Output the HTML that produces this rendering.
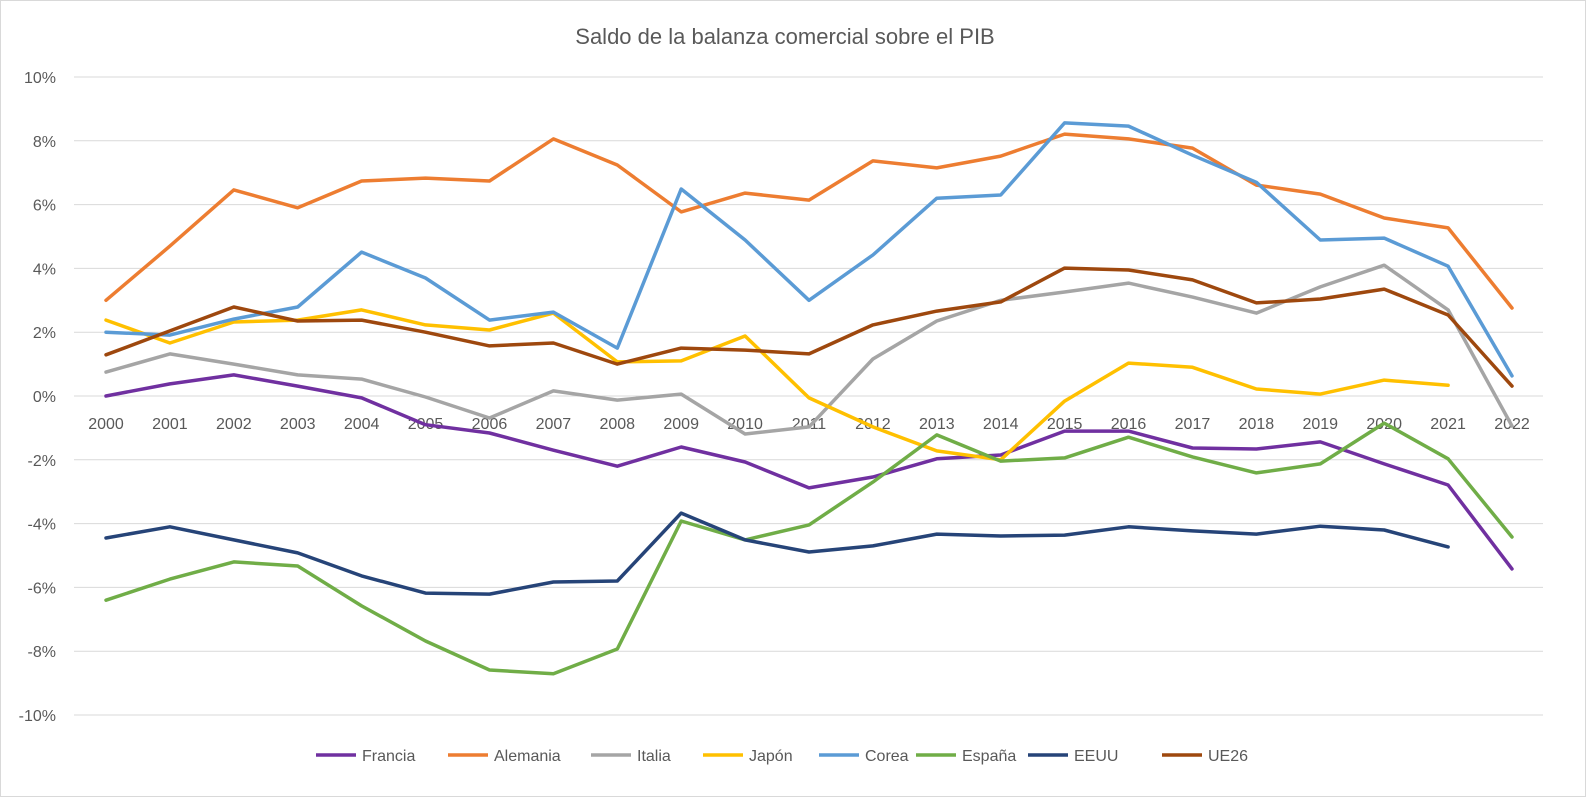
<!DOCTYPE html>
<html><head><meta charset="utf-8"><style>
body{margin:0;background:#fff}
svg{display:block;font-family:"Liberation Sans",sans-serif}
</style></head><body>
<svg id="chart" width="1586" height="797" viewBox="0 0 1586 797">
<rect x="0.5" y="0.5" width="1585" height="796" fill="#fff" stroke="#d9d9d9"/>
<text x="785" y="44" text-anchor="middle" font-size="22" fill="#595959">Saldo de la balanza comercial sobre el PIB</text>
<g id="grid"></g><g id="ylabels"></g><g id="xlabels"></g><g id="lines"></g><g id="legend"></g>
</svg>
<script>
const years=["2000","2001","2002","2003","2004","2005","2006","2007","2008","2009","2010","2011","2012","2013","2014","2015","2016","2017","2018","2019","2020","2021","2022"];
const yTicks=[10,8,6,4,2,0,-2,-4,-6,-8,-10];
const seriesNames=["Francia","Alemania","Italia","Japón","Corea","España","EEUU","UE26"];
const seriesColors=["#7030a0","#ed7d31","#a5a5a5","#ffc000","#5b9bd5","#70ad47","#264478","#9e480e"];
const francia=[0,0.38,0.66,0.31,-0.06,-0.9,-1.16,-1.7,-2.2,-1.6,-2.07,-2.88,-2.54,-1.97,-1.85,-1.1,-1.1,-1.63,-1.66,-1.44,-2.13,-2.79,-5.42];
const alemania=[3.0,4.7,6.46,5.9,6.74,6.83,6.74,8.06,7.24,5.77,6.36,6.14,7.37,7.15,7.52,8.21,8.06,7.77,6.61,6.33,5.58,5.27,2.76];
const italia=[0.75,1.32,1.0,0.66,0.53,-0.03,-0.69,0.16,-0.13,0.06,-1.19,-0.97,1.16,2.35,3.0,3.26,3.54,3.1,2.6,3.42,4.1,2.7,-0.94];
const japon=[2.38,1.66,2.32,2.38,2.7,2.23,2.07,2.6,1.07,1.1,1.88,-0.06,-0.97,-1.72,-2.0,-0.16,1.03,0.9,0.22,0.06,0.5,0.34,null];
const corea=[2.0,1.91,2.41,2.79,4.51,3.7,2.38,2.63,1.5,6.49,4.89,3.0,4.42,6.2,6.3,8.56,8.46,7.55,6.7,4.89,4.95,4.07,0.63];
const espana=[-6.4,-5.74,-5.2,-5.33,-6.58,-7.68,-8.59,-8.71,-7.93,-3.92,-4.51,-4.04,-2.7,-1.22,-2.04,-1.94,-1.29,-1.91,-2.41,-2.13,-0.85,-1.97,-4.42];
const eeuu=[-4.45,-4.1,-4.51,-4.92,-5.64,-6.18,-6.21,-5.83,-5.8,-3.67,-4.51,-4.89,-4.7,-4.33,-4.39,-4.36,-4.1,-4.23,-4.33,-4.08,-4.2,-4.73,null];
const ue26=[1.29,2.04,2.79,2.35,2.38,2.0,1.57,1.66,1.0,1.5,1.44,1.32,2.23,2.66,2.95,4.01,3.95,3.64,2.92,3.04,3.35,2.54,0.31];
const seriesData=[francia,alemania,italia,japon,corea,espana,eeuu,ue26];

const NS="http://www.w3.org/2000/svg";
const X0=106,X1=1512,Y0=396,PER=31.9;
const xs=i=>X0+(X1-X0)*i/(years.length-1);
const ys=v=>Y0-v*PER;
function mk(t,a,p){const e=document.createElementNS(NS,t);for(const k in a)e.setAttribute(k,a[k]);p.appendChild(e);return e;}
const grid=document.getElementById('grid'),yl=document.getElementById('ylabels'),xl=document.getElementById('xlabels'),lg=document.getElementById('lines'),leg=document.getElementById('legend');
yTicks.forEach(t=>{
  const l=mk('line',{x1:74,x2:1543,y1:ys(t),y2:ys(t),stroke:'#d9d9d9','stroke-width':1},grid);
  
  
  const tx=mk('text',{x:56,y:ys(t)+6,'text-anchor':'end','font-size':16,fill:'#595959'},yl);
  tx.textContent=t+'%';
  
  
});
years.forEach((y,i)=>{
  const tx=mk('text',{x:xs(i),y:429,'text-anchor':'middle','font-size':16,fill:'#595959'},xl);
  tx.textContent=y;
  
  
});
seriesData.forEach((d,s)=>{
  let p='';d.forEach((v,i)=>{if(v===null)return;p+=(p?'L':'M')+xs(i).toFixed(1)+','+ys(v).toFixed(1);});
  const path=mk('path',{d:p,fill:'none',stroke:seriesColors[s],'stroke-width':3.5,'stroke-linejoin':'round','stroke-linecap':'round'},lg);
  
  
});
const legX=[316,448,591,703,819,916,1028,1162];
seriesNames.forEach((n,s)=>{
  const l=mk('line',{x1:legX[s],x2:legX[s]+40,y1:755,y2:755,stroke:seriesColors[s],'stroke-width':3.5},leg);
  
  
  const t=mk('text',{x:legX[s]+46,y:761,'font-size':16,fill:'#595959'},leg);
  t.textContent=n;
  
  
});
</script>
</body></html>
